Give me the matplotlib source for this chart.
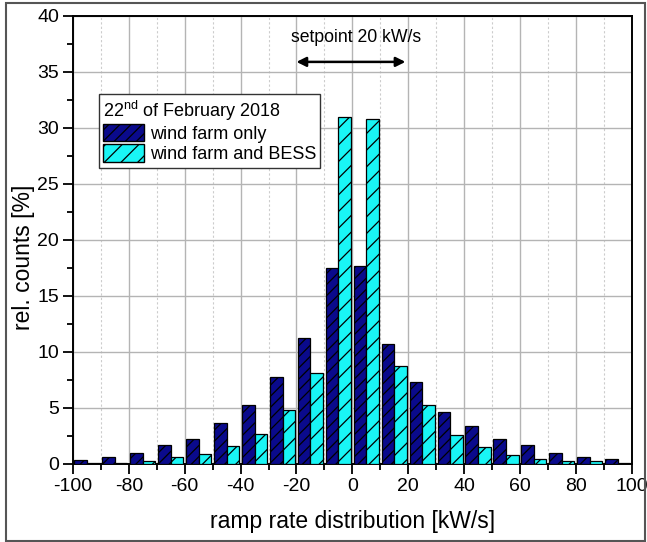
import matplotlib
matplotlib.use("Agg")
import matplotlib.pyplot as plt
import numpy as np
from matplotlib.patches import Rectangle, Patch
from matplotlib.ticker import MultipleLocator

plt.rcParams['font.family'] = ['Liberation Sans', 'DejaVu Sans']
plt.rcParams['axes.unicode_minus'] = False
plt.rcParams['mathtext.fontset'] = 'custom'
plt.rcParams['mathtext.rm'] = 'Liberation Sans'
plt.rcParams['hatch.linewidth'] = 0.9

# bin centres [kW/s]
bin_centers = [-95, -85, -75, -65, -55, -45, -35, -25, -15, -5,
               5, 15, 25, 35, 45, 55, 65, 75, 85, 95]
wind_only = [0.30, 0.56, 0.92, 1.70, 2.18, 3.65, 5.22, 7.77, 11.2, 17.45,
             17.68, 10.72, 7.26, 4.66, 3.34, 2.24, 1.64, 0.92, 0.63, 0.42]
wind_bess = [0.05, 0.10, 0.27, 0.60, 0.83, 1.55, 2.66, 4.81, 8.13, 30.94,
             30.76, 8.75, 5.20, 2.57, 1.50, 0.74, 0.45, 0.20, 0.20, 0.03]
label_only = "wind farm only"
label_bess = "wind farm and BESS"
legend_title = r"22$^{\mathrm{nd}}$ of February 2018"
x_ticks = [-100, -80, -60, -40, -20, 0, 20, 40, 60, 80, 100]

fig = plt.figure(figsize=(6.47, 5.42), dpi=100)
ax = fig.add_axes([73/647, 1-463.7/542, (631.7-73)/647, (463.7-16)/542])

dark = '#0a0a8c'
cyan = '#19f5f5'
w = 4.5
xc = np.array(bin_centers, dtype=float)
ax.bar(xc - 2.25, wind_only, width=w, color=dark, edgecolor='black',
       linewidth=0.9, hatch='///', zorder=3)
ax.bar(xc + 2.25, wind_bess, width=w, color=cyan, edgecolor='black',
       linewidth=0.9, hatch='//', zorder=3)

ax.set_xlim(-100, 100)
ax.set_ylim(0, 40)
ax.set_xticks(x_ticks)
ax.xaxis.set_minor_locator(MultipleLocator(10))
ax.yaxis.set_major_locator(MultipleLocator(5))
ax.yaxis.set_minor_locator(MultipleLocator(2.5))
ax.tick_params(which='major', direction='out', length=7, width=1.3,
               labelsize=14, top=False, right=False, pad=3)
ax.tick_params(which='minor', direction='out', length=4, width=1.3,
               top=False, right=False)
ax.grid(which='major', color='#b4b4b4', linewidth=1.0, zorder=0)
ax.xaxis.grid(which='minor', color='#cccccc', linestyle=(0, (2, 2)),
              linewidth=0.8, zorder=0)
ax.set_axisbelow(True)
for s in ax.spines.values():
    s.set_linewidth(1.4)

ax.set_xlabel("ramp rate distribution [kW/s]", fontsize=16.5)
ax.set_ylabel("rel. counts [%]", fontsize=16.5)
ax.xaxis.set_label_coords(0.5, -0.103)
ax.yaxis.set_label_coords(-0.068, 0.46)

# setpoint annotation
ax.annotate('', xy=(-20, 35.9), xytext=(19, 35.9),
            arrowprops=dict(arrowstyle='<|-|>', color='black', lw=1.8,
                            mutation_scale=14, shrinkA=0, shrinkB=0))
ax.text(1.5, 38.1, "setpoint 20 kW/s", ha='center', va='center', fontsize=12.7)

handles = [Patch(facecolor=dark, edgecolor='black', hatch='///', label=label_only),
           Patch(facecolor=cyan, edgecolor='black', hatch='//', label=label_bess)]
leg = ax.legend(handles=handles, title=legend_title, loc='upper left',
                bbox_to_anchor=(0.0465, 0.826), fontsize=13,
                title_fontsize=13, alignment='left', fancybox=False,
                framealpha=1, edgecolor='#333333', handlelength=2.25,
                handleheight=1.1, handletextpad=0.3, borderpad=0.25,
                labelspacing=0.08, borderaxespad=0)
leg.get_frame().set_linewidth(1.0)
leg.set_zorder(5)

# outer frame
fig.patches.append(Rectangle((6/647, 1/542), (645-6)/647, (539-1)/542,
                             transform=fig.transFigure, fill=False,
                             edgecolor='#555555', linewidth=1.5))

fig.savefig("out.png", dpi=100)
